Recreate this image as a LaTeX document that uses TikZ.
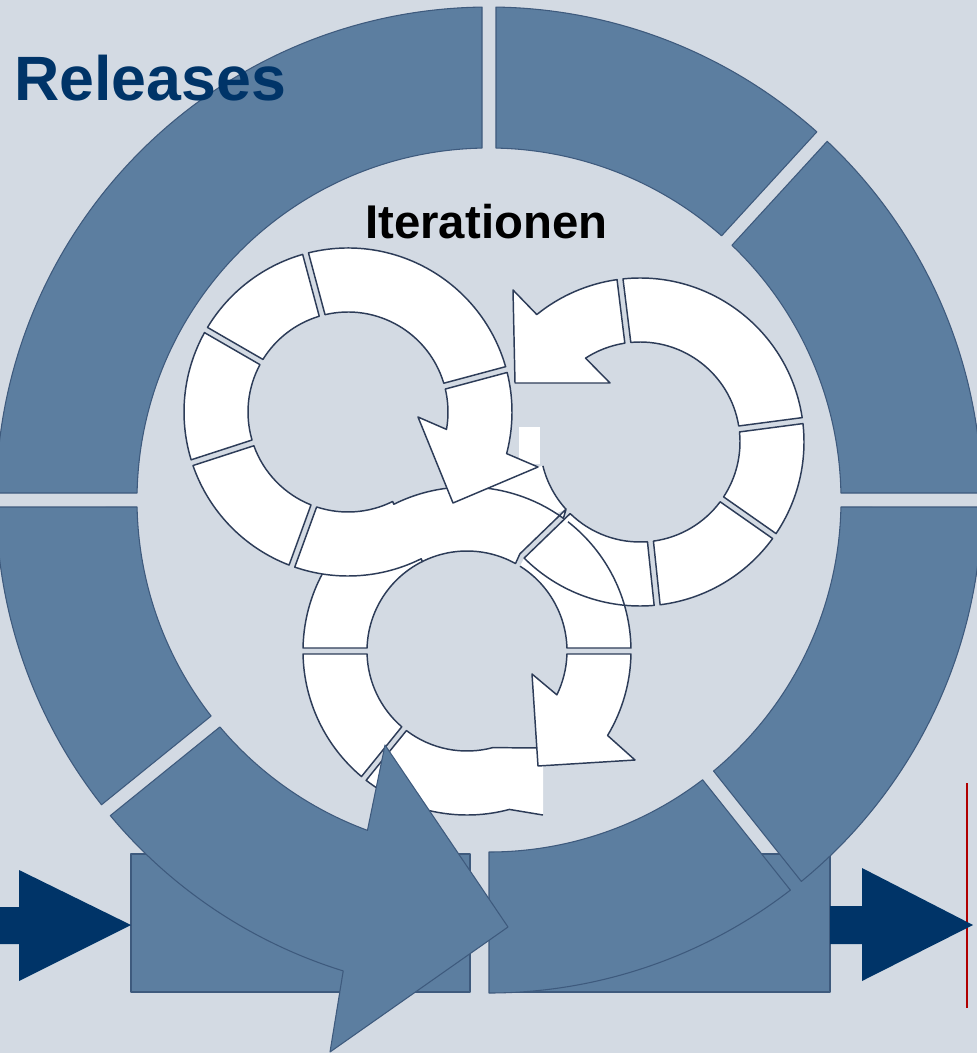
\documentclass[tikz,border=0pt]{standalone}
\usepackage{fontspec}
\setmainfont{Liberation Sans}
\definecolor{bgcol}{RGB}{211,218,227}
\definecolor{segblue}{RGB}{92,126,160}
\definecolor{segedge}{RGB}{62,90,125}
\definecolor{navy}{RGB}{0,52,104}
\definecolor{inkline}{RGB}{45,60,88}
\definecolor{framered}{RGB}{176,0,0}
% annular piece: centre, inner r, outer r, from, to (half gap width in \gw)
\newcommand\annseg[5]{([shift={(#4+\gw*57.3/#3:#3)}]#1) arc[start angle={#4+\gw*57.3/#3}, end angle={#5-\gw*57.3/#3}, radius=#3] -- ([shift={(#5-\gw*57.3/#2:#2)}]#1) arc[start angle={#5-\gw*57.3/#2}, end angle={#4+\gw*57.3/#2}, radius=#2] -- cycle}
\begin{document}
\begin{tikzpicture}[x=0.75pt,y=0.75pt,
  relseg/.style={fill=segblue,draw=segedge,line width=0.8pt,line join=round},
  iterseg/.style={fill=white,draw=inkline,line width=1.1pt,line join=round},
  inkdraw/.style={draw=inkline,line width=1.1pt,line join=round},
  flowarrow/.style={fill=navy}]
	% canvas
	\useasboundingbox (0,0) rectangle (977,-1053);
	\clip (0,0) rectangle (977,-1053);
	\fill[bgcol] (0,0) rectangle (977,-1053);
	% ring centres
	\coordinate (R) at (489,-500);
	\coordinate (A) at (348,-412);
	\coordinate (B) at (640,-442);
	\coordinate (C) at (467,-651);
	% boxes under the release ring
	\draw[relseg] (131,-854) rectangle (470,-992);
	\draw[relseg] (490,-854) rectangle (830,-992);
	% the release ring
	\def\gw{7}
	\draw[relseg] \annseg{R}{352}{493}{90}{180};
	\draw[relseg] \annseg{R}{352}{493}{47.5}{90};
	\draw[relseg] \annseg{R}{352}{493}{0}{47.5};
	\draw[relseg] \annseg{R}{352}{493}{-51.5}{0};
	\draw[relseg] \annseg{R}{352}{493}{180}{219};
	\draw[relseg] ([shift={(270:493)}]R) arc[start angle=270, end angle=307.69, radius=493]
	  -- ([shift={(307.36:352)}]R) arc[start angle=307.36, end angle=270, radius=352] -- cycle;
	% iteration ring C (bottom)
	\def\gw{3}
	\draw[iterseg] ([shift={(116.5:164)}]C) arc[start angle=116.5, end angle=178.95, radius=164]
	  -- ([shift={(178.28:100)}]C) arc[start angle=178.28, end angle=116.5, radius=100] -- cycle;
	\draw[iterseg] \annseg{C}{100}{164}{180}{231};
	\fill[white] ([shift={(232.05:164)}]C) arc[start angle=232.05, end angle=285, radius=164]
	  -- (543,-815) -- (543,-748) -- ([shift={(285:100)}]C) arc[start angle=285, end angle=232.72, radius=100] -- cycle;
	\draw[inkdraw] (540,-748) -- ([shift={(285:100)}]C) arc[start angle=285, end angle=232.72, radius=100]
	  -- ([shift={(232.05:164)}]C) arc[start angle=232.05, end angle=285, radius=164] -- (543,-815);
	\draw[iterseg] ([shift={(-1.05:164)}]C) arc[start angle=-1.05, end angle=-31, radius=164]
	  -- (635,-760) -- (538,-766) -- (532,-674)
	  -- ([shift={(-26:100)}]C) arc[start angle=-26, end angle=-1.72, radius=100] -- cycle;
	% white between head of A and ring B
	\fill[white] (538,-467) -- ([shift={(193.8:100)}]B) arc[start angle=193.8, end angle=222.3, radius=100]
	  -- (540,-520) -- (470,-500) -- (453,-503) -- cycle;
	\draw[inkdraw] ([shift={(193.8:100)}]B) arc[start angle=193.8, end angle=222.3, radius=100];
	\fill[white] (519,-427) rectangle (540,-464);
	% band from ring A into ring C
	\draw[iterseg] ([shift={(251.72:100)}]A) arc[start angle=251.72, end angle=296.5, radius=100]
	  -- ([shift={(116.5:164)}]C) arc[start angle=116.5, end angle=54, radius=164]
	  -- ([shift={(222.28:100)}]B) -- ([shift={(222.95:164)}]B)
	  -- ([shift={(61:100)}]C) arc[start angle=61, end angle=116.5, radius=100]
	  -- ([shift={(296.5:164)}]A) arc[start angle=296.5, end angle=251.05, radius=164] -- cycle;
	% iteration ring A (left)
	\draw[iterseg] \annseg{A}{100}{164}{15}{105};
	\draw[iterseg] \annseg{A}{100}{164}{105}{150};
	\draw[iterseg] \annseg{A}{100}{164}{150}{198};
	\draw[iterseg] \annseg{A}{100}{164}{198}{250};
	\draw[iterseg] ([shift={(13.95:164)}]A) arc[start angle=13.95, end angle=-14.7, radius=164]
	  -- (538,-467) -- (453,-503) -- (418,-417)
	  -- ([shift={(-10:100)}]A) arc[start angle=-10, end angle=13.28, radius=100] -- cycle;
	% iteration ring B (right)
	\draw[iterseg] ([shift={(98.05:164)}]B) arc[start angle=98.05, end angle=129, radius=164]
	  -- (513,-290) -- (515,-383) -- (610,-383)
	  -- ([shift={(123:100)}]B) arc[start angle=123, end angle=98.72, radius=100] -- cycle;
	\draw[iterseg] \annseg{B}{100}{164}{7.5}{97};
	\draw[iterseg] \annseg{B}{100}{164}{-35}{7.5};
	\draw[iterseg] \annseg{B}{100}{164}{-84}{-35};
	\fill[white] ([shift={(225.05:164)}]B) -- ([shift={(225.72:100)}]B)
	  -- ([shift={(52:164)}]C) arc[start angle=52, end angle=1.05, radius=164]
	  -- ([shift={(1.72:100)}]C) arc[start angle=1.72, end angle=58, radius=100] -- cycle;
	\fill[white] \annseg{B}{100}{164}{224}{276};
	\draw[inkdraw] ([shift={(52:164)}]C) arc[start angle=52, end angle=1.05, radius=164]
	  -- ([shift={(1.72:100)}]C) arc[start angle=1.72, end angle=58, radius=100];
	\draw[inkdraw] \annseg{B}{100}{164}{224}{276};
	% the release arrow
	\draw[relseg] ([shift={(219.81:493)}]R) arc[start angle=219.81, end angle=252.8, radius=493]
	  -- (330,-1052) -- (508,-927) -- (385,-745)
	  -- ([shift={(249.8:352)}]R) arc[start angle=249.8, end angle=220.14, radius=352] -- cycle;
	% in and out
	\draw[framered,line width=1.6pt] (967,-783) -- (967,-1008);
	\fill[flowarrow] (-5,-907) -- (19,-907) -- (19,-870) -- (131,-925) -- (19,-981) -- (19,-944) -- (-5,-944) -- cycle;
	\fill[flowarrow] (830,-906) -- (862,-906) -- (862,-868) -- (973,-925) -- (862,-981) -- (862,-944) -- (830,-944) -- cycle;
	% titles
	\node[anchor=base west,inner sep=0,text=navy,font=\bfseries\fontsize{47}{50}\selectfont] (releases) at (14,-100) {Releases};
	\node[anchor=base west,inner sep=0,font=\bfseries\fontsize{35.5}{40}\selectfont] (iterationen) at (365,-238) {Iterationen};
\end{tikzpicture}
\end{document}
